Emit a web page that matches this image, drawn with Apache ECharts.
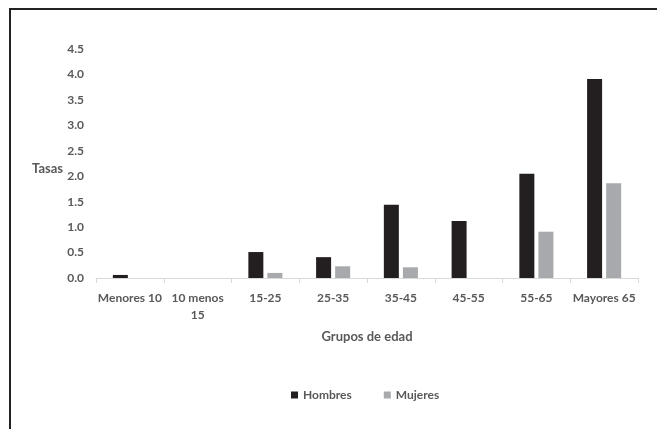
<!DOCTYPE html>
<html>
<head>
<meta charset="utf-8">
<script src="https://cdn.jsdelivr.net/npm/echarts@6/dist/echarts.min.js"></script>
<style>
  html, body { margin: 0; padding: 0; background: #ffffff; }
  #chart { width: 657px; height: 429px; }
</style>
</head>
<body>
<div id="chart"></div>
<script>
// Age groups on the x axis
var categories = ['Menores 10', '10 menos 15', '15-25', '25-35', '35-45', '45-55', '55-65', 'Mayores 65'];
// Rates by sex
var hombres = [0.06, 0, 0.51, 0.41, 1.44, 1.12, 2.05, 3.91];
var mujeres = [0, 0, 0.10, 0.23, 0.21, 0, 0.91, 1.86];
// Value-axis ticks
var yMin = 0, yMax = 4.5, yStep = 0.5;

var FONT = 'Lato, "Noto Sans", sans-serif';
var TEXT = '#595959';

var chart = echarts.init(document.getElementById('chart'), null, { renderer: 'canvas' });
chart.setOption({
  animation: false,
  backgroundColor: '#ffffff',
  textStyle: { fontFamily: FONT },
  grid: { left: 96, right: 19, top: 49, bottom: 151, containLabel: false },
  legend: {
    left: 291, top: 389, padding: 0,
    itemWidth: 7, itemHeight: 7, itemGap: 32,
    icon: 'rect',
    textStyle: { color: TEXT, fontSize: 12, fontWeight: 'bold', fontFamily: FONT },
    data: ['Hombres', 'Mujeres']
  },
  xAxis: {
    type: 'category',
    data: categories,
    name: 'Grupos de edad',
    nameLocation: 'middle',
    nameGap: 52,
    nameTextStyle: { color: TEXT, fontSize: 13, fontWeight: 'bold', fontFamily: FONT },
    axisLine: { lineStyle: { color: '#d9d9d9', width: 1 } },
    axisTick: { show: true, length: 5, lineStyle: { color: '#d9d9d9' } },
    axisLabel: {
      color: TEXT, fontSize: 12, fontWeight: 'bold', fontFamily: FONT,
      margin: 12, lineHeight: 17, interval: 0,
      formatter: function (v) { return v === '10 menos 15' ? '10 menos\n15' : v; }
    },
    splitLine: { show: false }
  },
  yAxis: {
    type: 'value',
    min: yMin, max: yMax, interval: yStep,
    axisLine: { show: false },
    axisTick: { show: false },
    splitLine: { show: false },
    axisLabel: {
      color: TEXT, fontSize: 12, fontWeight: 'bold', fontFamily: FONT, margin: 12,
      formatter: function (v) { return v.toFixed(1); }
    }
  },
  series: [
    {
      name: 'Hombres', type: 'bar', data: hombres,
      barWidth: 15, barGap: '27%',
      itemStyle: { color: '#231f20' }
    },
    {
      name: 'Mujeres', type: 'bar', data: mujeres,
      barWidth: 15,
      itemStyle: { color: '#a7a9ac' }
    }
  ],
  graphic: [
    {
      type: 'rect', silent: true,
      shape: { x: 10, y: 9, width: 800, height: 600 },
      style: { fill: 'none', stroke: '#222222', lineWidth: 2 }
    },
    {
      type: 'text', silent: true,
      x: 63, y: 169,
      style: {
        text: 'Tasas', fill: TEXT, font: 'bold 13px ' + FONT,
        textAlign: 'right', textVerticalAlign: 'middle'
      }
    }
  ]
});
</script>
</body>
</html>
